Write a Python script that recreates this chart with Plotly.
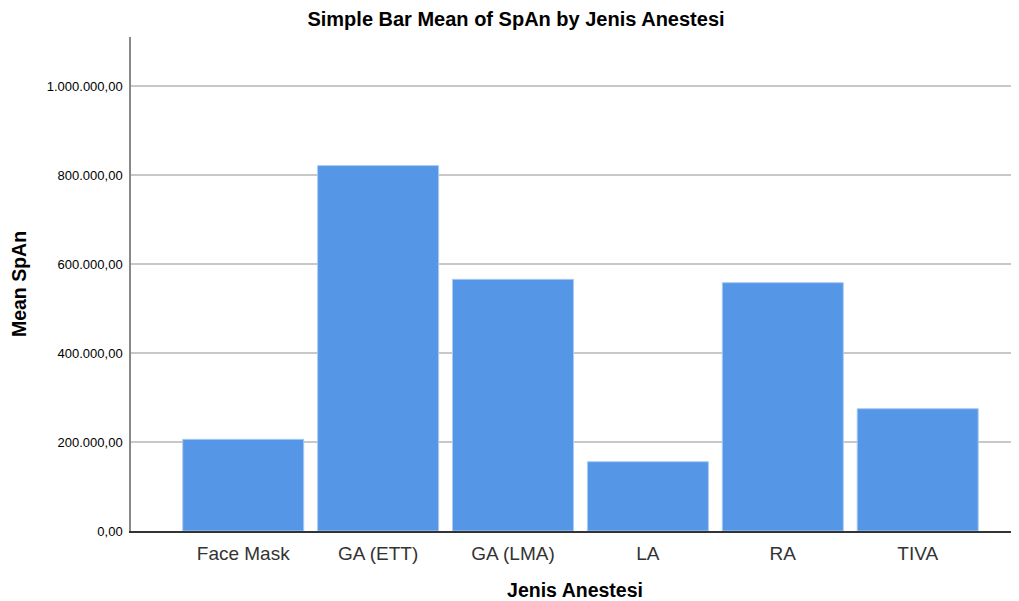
import plotly.graph_objects as go

categories = ["Face Mask", "GA (ETT)", "GA (LMA)", "LA", "RA", "TIVA"]
mean_span = [206000, 821000, 565500, 155700, 558000, 274800]
y_ticks = [0, 200000, 400000, 600000, 800000, 1000000]

# page body has an 8px margin, so the figure is sized to fit the 1019x601 window
W, H = 1011, 593

fig = go.Figure(go.Bar(
    x=list(range(len(categories))),
    y=mean_span,
    marker=dict(color="#5596E6", line=dict(color="#A9CBF3", width=1)),
    width=0.897,
))

fig.update_layout(
    width=W, height=H,
    margin=dict(l=123, r=0, t=29, b=70, autoexpand=False),
    paper_bgcolor="white", plot_bgcolor="white",
    separators=",.",
    showlegend=False,
    font=dict(family="Liberation Sans, Arial, sans-serif", color="#000"),
    title=dict(text="<b>Simple Bar Mean of SpAn by Jenis Anestesi</b>",
               x=508 / W, xanchor="center", y=1 - 11 / H, yanchor="middle",
               font=dict(size=20, color="#000")),
)

fig.update_xaxes(
    range=[-0.832, 5.751],
    tickmode="array",
    tickvals=list(range(len(categories))),
    ticktext=categories,
    tickfont=dict(size=19, color="#333"),
    ticks="outside", ticklen=4, tickcolor="rgba(0,0,0,0)",
    showline=True, linecolor="#333", linewidth=1.5,
    showgrid=False, zeroline=False, automargin=False,
    title=dict(text="<b>Jenis Anestesi</b>", font=dict(size=19.5, color="#000"), standoff=23),
)

fig.update_yaxes(
    range=[0, 1110000],
    tickmode="array",
    tickvals=y_ticks,
    tickformat=",.2f",
    tickfont=dict(size=13, color="#000"),
    ticks="outside", ticklen=4, tickcolor="rgba(0,0,0,0)",
    showline=True, linecolor="#888", linewidth=1.5,
    showgrid=True, gridcolor="#C8C8C8", gridwidth=1.5,
    zeroline=False, automargin=False,
    title=dict(text="<b>Mean SpAn</b>", font=dict(size=19.5, color="#000"), standoff=16),
)

fig.write_html("out.html")
